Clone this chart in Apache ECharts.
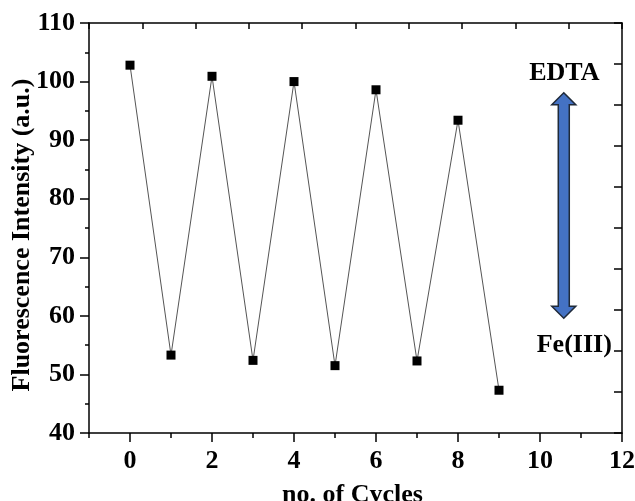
<!DOCTYPE html>
<html>
<head>
<meta charset="utf-8">
<script src="https://cdn.jsdelivr.net/npm/echarts@6/dist/echarts.min.js"></script>
<style>html,body{margin:0;padding:0;background:#fff}#c{width:635px;height:501px}</style>
</head>
<body>
<div id="c"></div>
<script>
var cycles = [0, 1, 2, 3, 4, 5, 6, 7, 8, 9];
var intensity = [102.8, 53.3, 100.9, 52.4, 100.0, 51.5, 98.6, 52.3, 93.4, 47.3];
var xMajorTicks = [0, 2, 4, 6, 8, 10, 12];
var xMinorTicks = [-1, 1, 3, 5, 7, 9, 11];
var arrowTop = [10.58, 98.1];
var arrowBottom = [10.58, 59.6];

var FONT = '"Liberation Serif","Times New Roman",serif';
var chart = echarts.init(document.getElementById('c'), null, {renderer: 'canvas'});
var lineStyle = {color: '#000', width: 1.5};

chart.setOption({
  animation: false,
  backgroundColor: '#fff',
  grid: {left: 89, right: 13, top: 23, bottom: 68, containLabel: false, outerBoundsMode: 'none'},
  xAxis: [
    {
      type: 'value', position: 'bottom', min: -1, max: 12, interval: 1,
      name: 'no. of Cycles', nameLocation: 'middle', nameGap: 49,
      nameTextStyle: {fontFamily: FONT, fontWeight: 'bold', fontSize: 26, color: '#000', padding: [0, 6, 0, 0]},
      axisLine: {show: true, onZero: false, lineStyle: lineStyle},
      axisTick: {show: true, inside: false, length: 9, customValues: xMajorTicks, lineStyle: lineStyle},
      axisLabel: {show: true, customValues: xMajorTicks, margin: 15, fontFamily: FONT, fontWeight: 'bold', fontSize: 26, color: '#000'},
      splitLine: {show: false}
    },
    {
      type: 'value', position: 'bottom', min: -1, max: 12, interval: 1,
      axisLine: {show: false, onZero: false},
      axisTick: {show: true, inside: false, length: 5, customValues: xMinorTicks, lineStyle: lineStyle},
      axisLabel: {show: false},
      splitLine: {show: false}
    },
    {
      type: 'value', position: 'top', min: 0, max: 10, interval: 1,
      axisLine: {show: true, onZero: false, lineStyle: lineStyle},
      axisTick: {show: true, inside: true, length: 6, lineStyle: lineStyle},
      axisLabel: {show: false},
      splitLine: {show: false}
    }
  ],
  yAxis: [
    {
      type: 'value', position: 'left', min: 40, max: 110, interval: 10,
      name: 'Fluorescence Intensity (a.u.)', nameLocation: 'middle', nameGap: 54, nameMoveOverlap: false,
      nameTextStyle: {fontFamily: FONT, fontWeight: 'bold', fontSize: 26, color: '#000', padding: [0, 14, 0, 0]},
      axisLine: {show: true, onZero: false, lineStyle: lineStyle},
      axisTick: {show: true, inside: false, length: 9, lineStyle: lineStyle},
      minorTick: {show: true, splitNumber: 2, length: 4, lineStyle: {color: '#000', width: 1.5}},
      axisLabel: {show: true, margin: 14, fontFamily: FONT, fontWeight: 'bold', fontSize: 26, color: '#000'},
      splitLine: {show: false}
    },
    {
      type: 'value', position: 'right', min: 0, max: 10, interval: 1,
      axisLine: {show: true, onZero: false, lineStyle: lineStyle},
      axisTick: {show: true, inside: true, length: 8, lineStyle: lineStyle},
      axisLabel: {show: false},
      splitLine: {show: false}
    }
  ],
  series: [
    {
      type: 'line', xAxisIndex: 0, yAxisIndex: 0,
      data: cycles.map(function (c, i) { return [c, intensity[i]]; }),
      symbol: 'rect', symbolSize: 9, showAllSymbol: true,
      itemStyle: {color: '#000'},
      lineStyle: {color: '#555', width: 1},
      z: 3
    }
  ]
});

function drawArrow() {
  var p1 = chart.convertToPixel({xAxisIndex: 0, yAxisIndex: 0}, arrowTop);
  var p2 = chart.convertToPixel({xAxisIndex: 0, yAxisIndex: 0}, arrowBottom);
  var cx = p1[0], ty = p1[1], by = p2[1];
  var hw = 12, hh = 12, sw = 5.5;
  var pts = [
    [cx, ty], [cx + hw, ty + hh], [cx + sw, ty + hh], [cx + sw, by - hh], [cx + hw, by - hh],
    [cx, by], [cx - hw, by - hh], [cx - sw, by - hh], [cx - sw, ty + hh], [cx - hw, ty + hh]
  ];
  chart.setOption({
    graphic: [
      {type: 'polygon', shape: {points: pts}, style: {fill: '#4472C4', stroke: '#1f2a3a', lineWidth: 1.5}, z: 10},
      {type: 'text', x: cx + 0.5, y: ty - 19, style: {text: 'EDTA', fontFamily: FONT, fontWeight: 'bold', fontSize: 26, fill: '#000', align: 'center', verticalAlign: 'middle'}, z: 10},
      {type: 'text', x: cx + 10.5, y: by + 27, style: {text: 'Fe(III)', fontFamily: FONT, fontWeight: 'bold', fontSize: 26, fill: '#000', align: 'center', verticalAlign: 'middle'}, z: 10}
    ]
  });
}
drawArrow();
</script>
</body>
</html>
